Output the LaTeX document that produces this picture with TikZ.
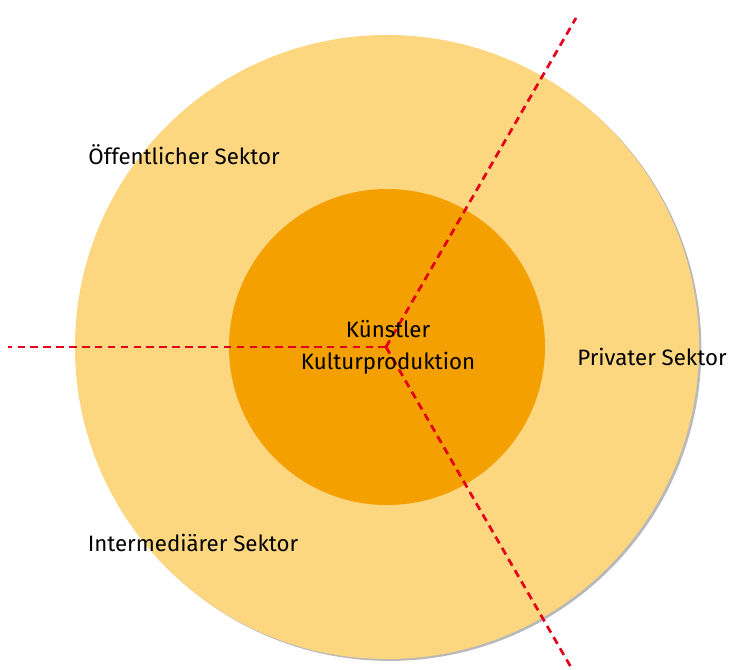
\documentclass[tikz,border=0pt]{standalone}
\usepackage{fontspec}
\setmainfont{Fira Sans}
\usetikzlibrary{shadows}
\pgfdeclarelayer{bg}
\pgfsetlayers{bg,main}
\definecolor{sektor}{RGB}{253,214,128}
\definecolor{kern}{RGB}{244,160,0}
\definecolor{grenze}{RGB}{226,0,26}
\tikzset{ring/.style={circle, draw=none, inner sep=0mm},
  grenzlinie/.style={draw=grenze, line width=2.3pt, dash pattern=on 6.5pt off 4.5pt},
  beschrift/.style={font=\fontsize{19}{22}\selectfont, inner sep=0mm}}

\begin{document}
\begin{tikzpicture}[x=0.03cm, y=-0.03cm]
    \useasboundingbox (0,0) rectangle (730,669);

    \begin{pgfonlayer}{bg}
        \node (aussen) at (387, 347) [ring, fill=sektor, minimum size=18.72cm,
            drop shadow={shadow xshift=2pt, shadow yshift=-1.6pt, fill=gray, opacity=0.55}] {};
        \node (innen) at (387, 347) [ring, fill=kern, minimum size=9.48cm] {};
    \end{pgfonlayer}

    \coordinate (mitte) at (386, 347);
    \coordinate (links) at (8, 347);
    \coordinate (oben) at (576, 18);
    \coordinate (unten) at (572, 669);

    \draw[grenzlinie] (mitte) -- (links);
    \draw[grenzlinie] (mitte) -- (oben);
    \draw[grenzlinie] (mitte) -- (unten);

    \node (kuenstler) at (388, 329) [beschrift] {Künstler};
    \node (kultur) at (388, 363) [beschrift] {Kulturproduktion};
    \node (oeff) at (184, 155) [beschrift] {Öffentlicher Sektor};
    \node (privat) at (652, 357) [beschrift] {Privater Sektor};
    \node (inter) at (193, 543) [beschrift] {Intermediärer Sektor};
\end{tikzpicture}
\end{document}
